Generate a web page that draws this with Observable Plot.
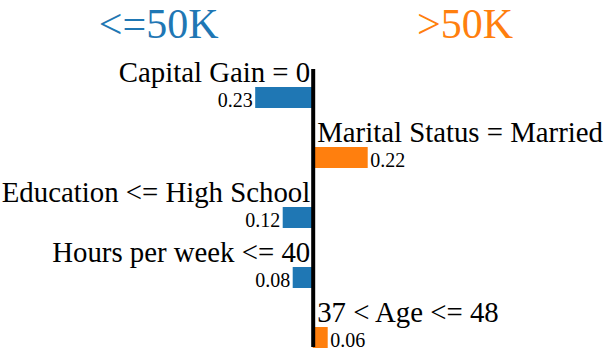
<!DOCTYPE html>
<html><head><meta charset="utf-8">
<script src="https://cdn.jsdelivr.net/npm/d3@7"></script>
<script src="https://cdn.jsdelivr.net/npm/@observablehq/plot@0.6"></script>
<style>
body{margin:0;background:#fff;}
svg{display:block;}
</style></head><body>
<div id="header"></div>
<div id="chart"></div>
<script>
const classNames = ["<=50K", ">50K"];
const classColors = ["#1f77b4", "#ff7f0e"];
const features = ["Capital Gain = 0", "Marital Status = Married", "Education <= High School", "Hours per week <= 40", "37 < Age <= 48"];
const weights = [-0.23, 0.22, -0.12, -0.08, 0.06];

const font = '"Liberation Serif", "Times New Roman", Times, serif';
const titleCenters = [158.7, 465];
const hsvg = d3.select("#header").append("svg")
  .attr("width", 608).attr("height", 48);
hsvg.selectAll("text").data(classNames).join("text")
  .attr("x", (d, i) => titleCenters[i])
  .attr("y", 38.2)
  .attr("text-anchor", "middle")
  .attr("font-family", font)
  .attr("font-size", 42)
  .attr("fill", (d, i) => classColors[i])
  .text(d => d);

const rows = features.map((f, i) => ({
  feature: f,
  w: weights[i],
  cls: weights[i] < 0 ? classNames[0] : classNames[1],
  label: Math.abs(weights[i]).toFixed(2)
}));
const neg = rows.filter(d => d.w < 0);
const pos = rows.filter(d => d.w >= 0);

const chart = Plot.plot({
  width: 608,
  height: 309,
  marginTop: 0,
  marginBottom: 9,
  marginLeft: 62.7,
  marginRight: 45.3,
  x: {domain: [-1, 1], axis: null},
  y: {type: "band", domain: features, padding: 0, axis: null},
  color: {domain: classNames, range: classColors},
  style: {fontFamily: font, background: "#fff", overflow: "visible", color: "#000"},
  marks: [
    Plot.barX(rows, {x1: 0, x2: "w", y: "feature", fill: "cls", insetTop: 39, insetBottom: 0}),
    Plot.text(neg, {x: 0, y: "feature", text: "feature", textAnchor: "end", lineAnchor: "bottom", dx: -3, dy: 3.5, fontSize: 28.8, fill: "#000"}),
    Plot.text(pos, {x: 0, y: "feature", text: "feature", textAnchor: "start", lineAnchor: "bottom", dx: 4, dy: 3.5, fontSize: 28.8, fill: "#000"}),
    Plot.text(neg, {x: "w", y: "feature", text: "label", textAnchor: "end", lineAnchor: "bottom", dx: -3, dy: 28.5, fontSize: 20, fill: "#000"}),
    Plot.text(pos, {x: "w", y: "feature", text: "label", textAnchor: "start", lineAnchor: "bottom", dx: 2, dy: 28.5, fontSize: 20, fill: "#000"}),
    Plot.ruleX([0], {stroke: "#000", strokeWidth: 4, insetTop: 21, insetBottom: 1})
  ]
});
document.getElementById("chart").appendChild(chart);
</script>
</body></html>
